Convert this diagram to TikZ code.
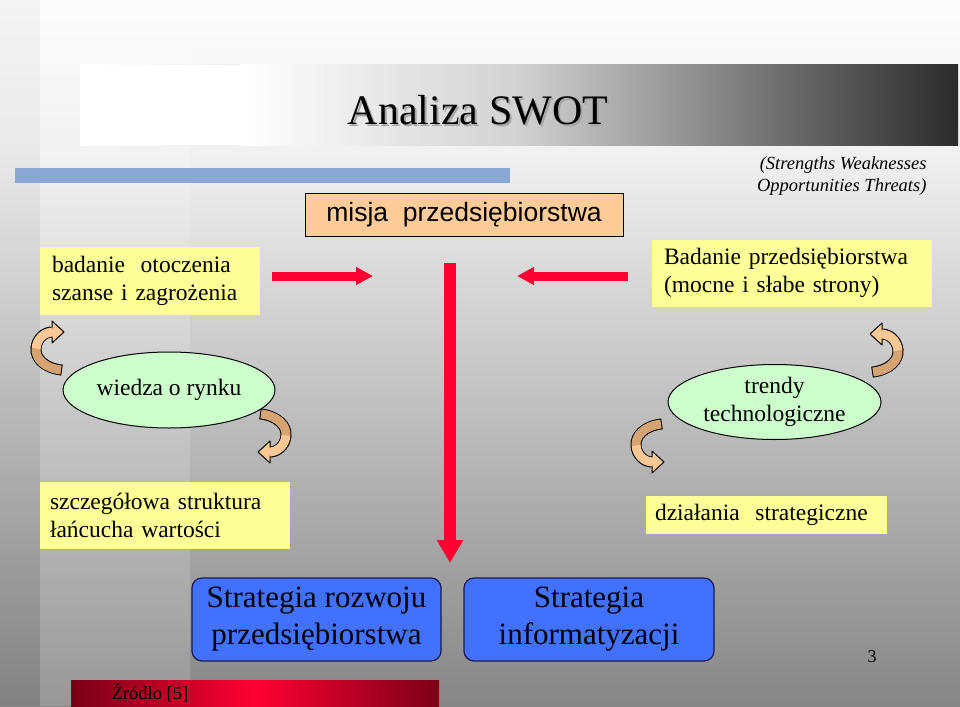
\documentclass[tikz,border=0pt]{standalone}
\usepackage{fontspec}
\setmainfont{Liberation Serif}
\newfontfamily\arialf{Liberation Sans}
\usetikzlibrary{arrows.meta,shapes.geometric}
\definecolor{bgtop}{HTML}{FCFCFC}
\definecolor{bgmid}{HTML}{F1F1F1}
\definecolor{bgbot}{HTML}{868686}
\definecolor{titledark}{HTML}{2B2B2B}
\definecolor{texblue}{HTML}{8AA7D6}
\definecolor{peach}{HTML}{FFCC99}
\definecolor{yellowbox}{HTML}{FFFF99}
\definecolor{mint}{HTML}{CCFFCC}
\definecolor{bluebox}{RGB}{66,112,255}
\definecolor{navy}{HTML}{1A1A50}
\definecolor{arrred}{HTML}{FF0033}
\definecolor{darkred}{HTML}{7A0018}
\definecolor{arrdark}{HTML}{D6A472}
\definecolor{arrlight}{HTML}{F9C894}
\tikzset{
  yellow note/.style={fill=yellowbox, draw=none, align=left, inner ysep=0pt,
    font=\fontsize{23.5}{28}\selectfont},
  oval/.style={ellipse, fill=mint, draw=black, line width=1pt, inner sep=0pt,
    align=center, font=\fontsize{23.5}{28}\selectfont},
  stratbox/.style={rectangle, rounded corners=10pt, fill=bluebox, draw=navy, line width=1.2pt,
    minimum width=249pt, minimum height=83pt, align=center, inner sep=0pt,
    font=\fontsize{31}{37}\selectfont},
  redarr/.style={draw=arrred, line width=9pt, -{Triangle[length=17pt,width=17pt]}},
  curvarrow/.pic={
    \draw[line width=11pt, black, shorten <=-1pt]
      (15,22) .. controls (-2,20) and (-11,10) .. (-10,0)
      .. controls (-9,-10) and (-1,-16) .. (6,-16);
    \filldraw[fill=arrlight, draw=black, line width=1pt, line join=round]
      (6,-27) -- (18,-16) -- (6,-5) -- cycle;
    \draw[line width=9pt, arrdark] (15,22) .. controls (-2,20) and (-11,10) .. (-10,0);
    \draw[line width=9pt, arrlight] (-10,0.5) .. controls (-9,-10) and (-1,-16) .. (7,-16);
  }
}
\begin{document}
\begin{tikzpicture}[x=1pt,y=-1pt]
\useasboundingbox (0,0) rectangle (960,706);
% background
\shade[top color=bgtop, bottom color=bgmid] (0,0) rectangle (960,150);
\shade[top color=bgmid, bottom color=bgbot] (0,150) rectangle (960,706);
\fill[white, opacity=0.15] (40,0) rectangle (190,706);
\fill[black, opacity=0.03] (0,0) rectangle (40,706);
% title bar
\shade[left color=white, right color=titledark, middle color=black!18] (80,65) rectangle (958,145);
\fill[white] (80,65) rectangle (240,145);
\shade[left color=white, right color=black!18] (240,65) rectangle (519,145);
\node[font=\fontsize{42}{48}\selectfont, text=black!35] (titleshadow) at (480,112) {Analiza SWOT};
\node[font=\fontsize{42}{48}\selectfont, text=black] (title) at (478,110) {Analiza SWOT};
% textured blue bar
\fill[texblue] (15,168) rectangle (510,183);
% misja
\node[fill=peach, draw=black, line width=1pt, minimum width=318pt, minimum height=43pt,
  inner sep=0pt, font=\arialf\fontsize{26.5}{30}\selectfont] (misja) at (464,214.5)
  {misja\ \ przedsiębiorstwa};
% SWOT note
\node[anchor=east, align=right, font=\itshape\fontsize{18.5}{22}\selectfont] (swot) at (930,176)
  {(Strengths Weaknesses\\Opportunities Threats)};
% yellow notes
\node[yellow note, text width=196pt, inner xsep=12pt, minimum height=68pt] (otocz) at (150,281)
  {badanie\ \ otoczenia\\szanse i zagrożenia};
\node[yellow note, text width=256pt, inner xsep=12pt, minimum height=67pt] (badanie) at (792,273)
  {Badanie przedsiębiorstwa\\(mocne i słabe strony)};
\node[yellow note, text width=230pt, inner xsep=10pt, minimum height=67pt] (lancuch) at (165,515)
  {szczegółowa struktura\\łańcucha wartości};
\node[yellow note, text width=223pt, inner xsep=9pt, minimum height=38pt] (dzialania) at (766.5,515)
  {działania\ \ strategiczne};
% ellipses
\node[oval, minimum width=212pt, minimum height=76pt] (wiedza) at (169,390) {wiedza o rynku};
\node[oval, minimum width=213pt, minimum height=75pt] (trendy) at (774.5,402) {trendy\\technologiczne};
% curved arrows
\pic at (46,348) {curvarrow};
\pic[rotate=180] at (276,436) {curvarrow};
\pic[yscale=-1] at (646,446) {curvarrow};
\pic[xscale=-1] at (888,350) {curvarrow};
% red arrows
\coordinate (la) at (272,276);
\coordinate (lb) at (373,276);
\coordinate (ra) at (628,276);
\coordinate (rb) at (517,276);
\coordinate (va) at (450,263);
\coordinate (vb) at (450,563);
\draw[redarr] (la) -- (lb);
\draw[redarr] (ra) -- (rb);
\draw[draw=arrred, line width=12pt, -{Triangle[length=23pt,width=25pt]}] (va) -- (vb);
% strategy boxes
\node[stratbox] (rozwoj) at (316.5,619.5) {Strategia rozwoju\\przedsiębiorstwa};
\node[stratbox, minimum width=250pt] (inform) at (589,619.5) {Strategia\\informatyzacji};
% page number
\node[font=\fontsize{18}{20}\selectfont] (pagenum) at (872,657) {3};
% source bar
\shade[left color=darkred, right color=darkred, middle color=arrred] (71,680) rectangle (439,706);
\node[font=\fontsize{18.5}{20}\selectfont, text=black] (zrodlo) at (150,693) {Źródło [5]};
\end{tikzpicture}
\end{document}
